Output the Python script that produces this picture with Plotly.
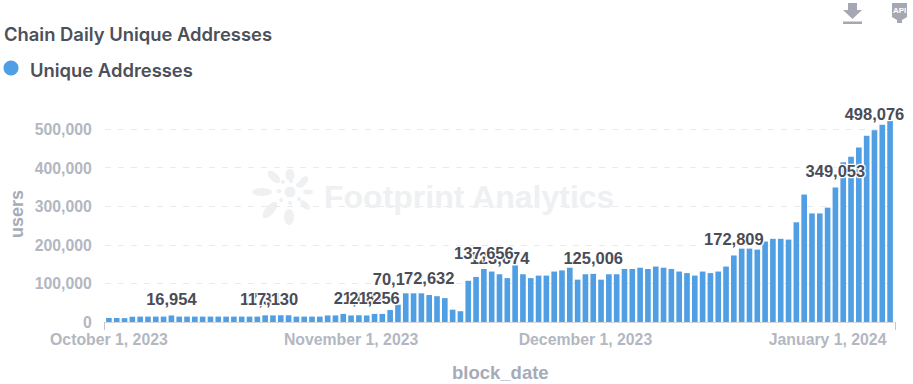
import math
import pandas as pd
import plotly.graph_objects as go

TITLE = "Chain Daily Unique Addresses"
SERIES_NAME = "Unique Addresses"
WATERMARK = "Footprint Analytics"

block_dates = pd.date_range("2023-10-01", periods=101, freq="D").strftime("%Y-%m-%d").tolist()

users_oct = [10500, 10500, 10000, 13700, 14000, 14000, 14000, 14000, 16954, 14000,
             14000, 14000, 14000, 14000, 14000, 14000, 14000, 14000, 14000, 14000,
             17313, 17130, 17500, 17500, 14000, 14000, 14000, 14000, 17000, 17000,
             21000]
users_nov = [17000, 17500, 17000, 21000, 21000, 31000, 45000, 74500, 74500, 74500,
             70000, 67000, 62000, 32000, 28000, 107000, 117000, 137656, 131000, 124000,
             114000, 147000, 124000, 114000, 120500, 120500, 131000, 134000, 141000, 110000]
users_dec = [124000, 125006, 110000, 124000, 124000, 137600, 137600, 141000, 137600, 144000,
             141000, 137600, 131000, 127000, 120500, 131000, 127000, 131000, 144000, 172809,
             190600, 190600, 188000, 209000, 216000, 216000, 214000, 259000, 331000, 282000,
             282000]
users_jan = [297000, 349053, 415000, 429000, 453000, 484000, 498076, 512000, 522000]
users = users_oct + users_nov + users_dec + users_jan

label_dates = ["2023-10-09", "2023-10-21", "2023-10-22", "2023-11-02", "2023-11-04",
               "2023-11-07", "2023-11-11", "2023-11-20", "2023-11-18", "2023-12-02",
               "2023-12-20", "2024-01-02", "2024-01-07"]
label_values = [16954, 17313, 17130, 21082, 21256, 70172, 72632, 123674, 137656, 125006,
                172809, 349053, 498076]

x_ticks = ["2023-10-01", "2023-11-01", "2023-12-01", "2024-01-01"]
y_ticks = [0, 100000, 200000, 300000, 400000, 500000]

W, H = 913, 384
L, R, T, B = 105, 19, 100, 62
PW, PH = W - L - R, H - T - B


def px(x):
    return (x - L) / PW


def py(y):
    return 1 - (y - T) / PH


def poly(points, color):
    d = "M " + " L ".join(f"{px(a):.5f},{py(b):.5f}" for a, b in points) + " Z"
    return dict(type="path", xref="paper", yref="paper", path=d, fillcolor=color,
                line=dict(width=0), layer="below")


def petal(cx, cy, a, b, deg, color):
    t = math.radians(deg)
    pts = []
    for i in range(24):
        u = 2 * math.pi * i / 24
        ex, ey = a * math.cos(u), b * math.sin(u)
        pts.append((cx + ex * math.cos(t) - ey * math.sin(t), cy + ex * math.sin(t) + ey * math.cos(t)))
    return poly(pts, color)


wm = "#eef0f2"
shapes = [
    petal(262, 192, 10, 4, 0, wm), petal(270, 210, 10, 4.5, -50, wm), petal(289, 217, 5, 8, 0, wm),
    petal(290, 175, 4.5, 6, 0, wm), petal(303, 182, 7, 3.5, -50, wm), petal(308, 192, 5, 2.5, 0, wm),
    petal(305, 205, 6, 3, 45, wm), petal(274, 177, 8, 4, 45, wm),
    petal(290, 192, 5.5, 5.5, 0, wm),
    petal(279, 191, 2.5, 2, 0, wm), petal(283, 182, 2, 2, 0, wm), petal(291, 181, 2, 2, 0, wm),
    petal(298, 185, 2, 2, 0, wm), petal(299, 199, 2, 2, 0, wm), petal(290, 203, 2, 2, 0, wm),
    petal(281, 200, 2, 2, 0, wm),
    # legend dot
    petal(11, 68, 7.5, 7.5, 0, "#509ee3"),
    # download icon
    poly([(848, 3), (857, 3), (857, 10), (862, 10), (852.5, 19), (843, 10), (848, 10)], "#a5a8b3"),
    poly([(843, 21.5), (862, 21.5), (862, 24), (843, 24)], "#a5a8b3"),
    # API badge
    poly([(892, 3), (907, 3), (907, 17), (902, 20), (902, 23), (897, 23), (897, 20), (892, 17)], "#a5a8b3"),
    # axis end ticks
    dict(type="line", xref="paper", yref="paper", x0=px(104.5), x1=px(104.5), y0=py(322), y1=py(330),
         line=dict(color="#c4c7cf", width=1)),
    dict(type="line", xref="paper", yref="paper", x0=px(895.5), x1=px(895.5), y0=py(322), y1=py(330),
         line=dict(color="#c4c7cf", width=1)),
]

axis_font = dict(family="Liberation Sans", size=15.8, color="#b3b7c1", weight="bold")
halo = ",".join(f"{a}px {b}px 1px #fff" for a in (-1, 0, 1) for b in (-1, 0, 1))

fig = go.Figure()
fig.add_trace(go.Bar(x=block_dates, y=users, name=SERIES_NAME, marker=dict(color="#509ee3", line=dict(width=0)),
                     width=0.72 * 86400000, hoverinfo="skip"))
fig.add_trace(go.Scatter(x=label_dates, y=label_values, mode="markers+text",
                         text=[f"{v:,}" for v in label_values], textposition="top center",
                         marker=dict(size=8, opacity=0), cliponaxis=False, hoverinfo="skip",
                         textfont=dict(family="Liberation Sans", size=16.5, color="#4a4c57", weight="bold",
                                       shadow=halo)))


def note(text, x, y, size, color, anchor="left", family="Liberation Sans", weight="bold"):
    return dict(text=text, xref="paper", yref="paper", x=px(x), y=py(y), showarrow=False, xanchor=anchor,
                yanchor="middle", font=dict(family=family, size=size, color=color, weight=weight))


fig.update_layout(
    width=W, height=H, margin=dict(l=L, r=R, t=T, b=B), autosize=False,
    paper_bgcolor="white", plot_bgcolor="white", showlegend=False,
    shapes=shapes,
    annotations=[
        note(TITLE, 2, 34, 18.4, "#4c5059", family="Inter", weight=600),
        note(SERIES_NAME, 28, 70, 18.4, "#4c5059", family="Inter", weight=600),
        note(WATERMARK, 322, 197, 32, wm),
        note("API", 899.5, 11, 8, "#ffffff", "center"),
        note("users", 17, 214, 18, "#a6abb8", "center") | dict(textangle=-90),
        note("block_date", 500, 372, 18.5, "#a6abb8", "center"),
    ],
    xaxis=dict(type="date", range=["2023-09-30 12:00", "2024-01-09 12:00"], tickvals=x_ticks,
               tickformat="%B %-d, %Y", tickfont=axis_font, showgrid=False, ticks="outside", ticklen=3,
               tickcolor="rgba(0,0,0,0)", showline=True, linecolor="#d5d7dd", linewidth=1, zeroline=False),
    yaxis=dict(range=[0, 576600], tickvals=y_ticks, tickformat=",d", tickfont=axis_font, ticks="outside",
               ticklen=9, tickcolor="rgba(0,0,0,0)", gridcolor="#e9eaee", griddash="6px,7px", gridwidth=1,
               showline=False, zeroline=False),
)

fig.write_html("out.html", config=dict(displayModeBar=False),
               post_script="document.body.style.margin='0';")
